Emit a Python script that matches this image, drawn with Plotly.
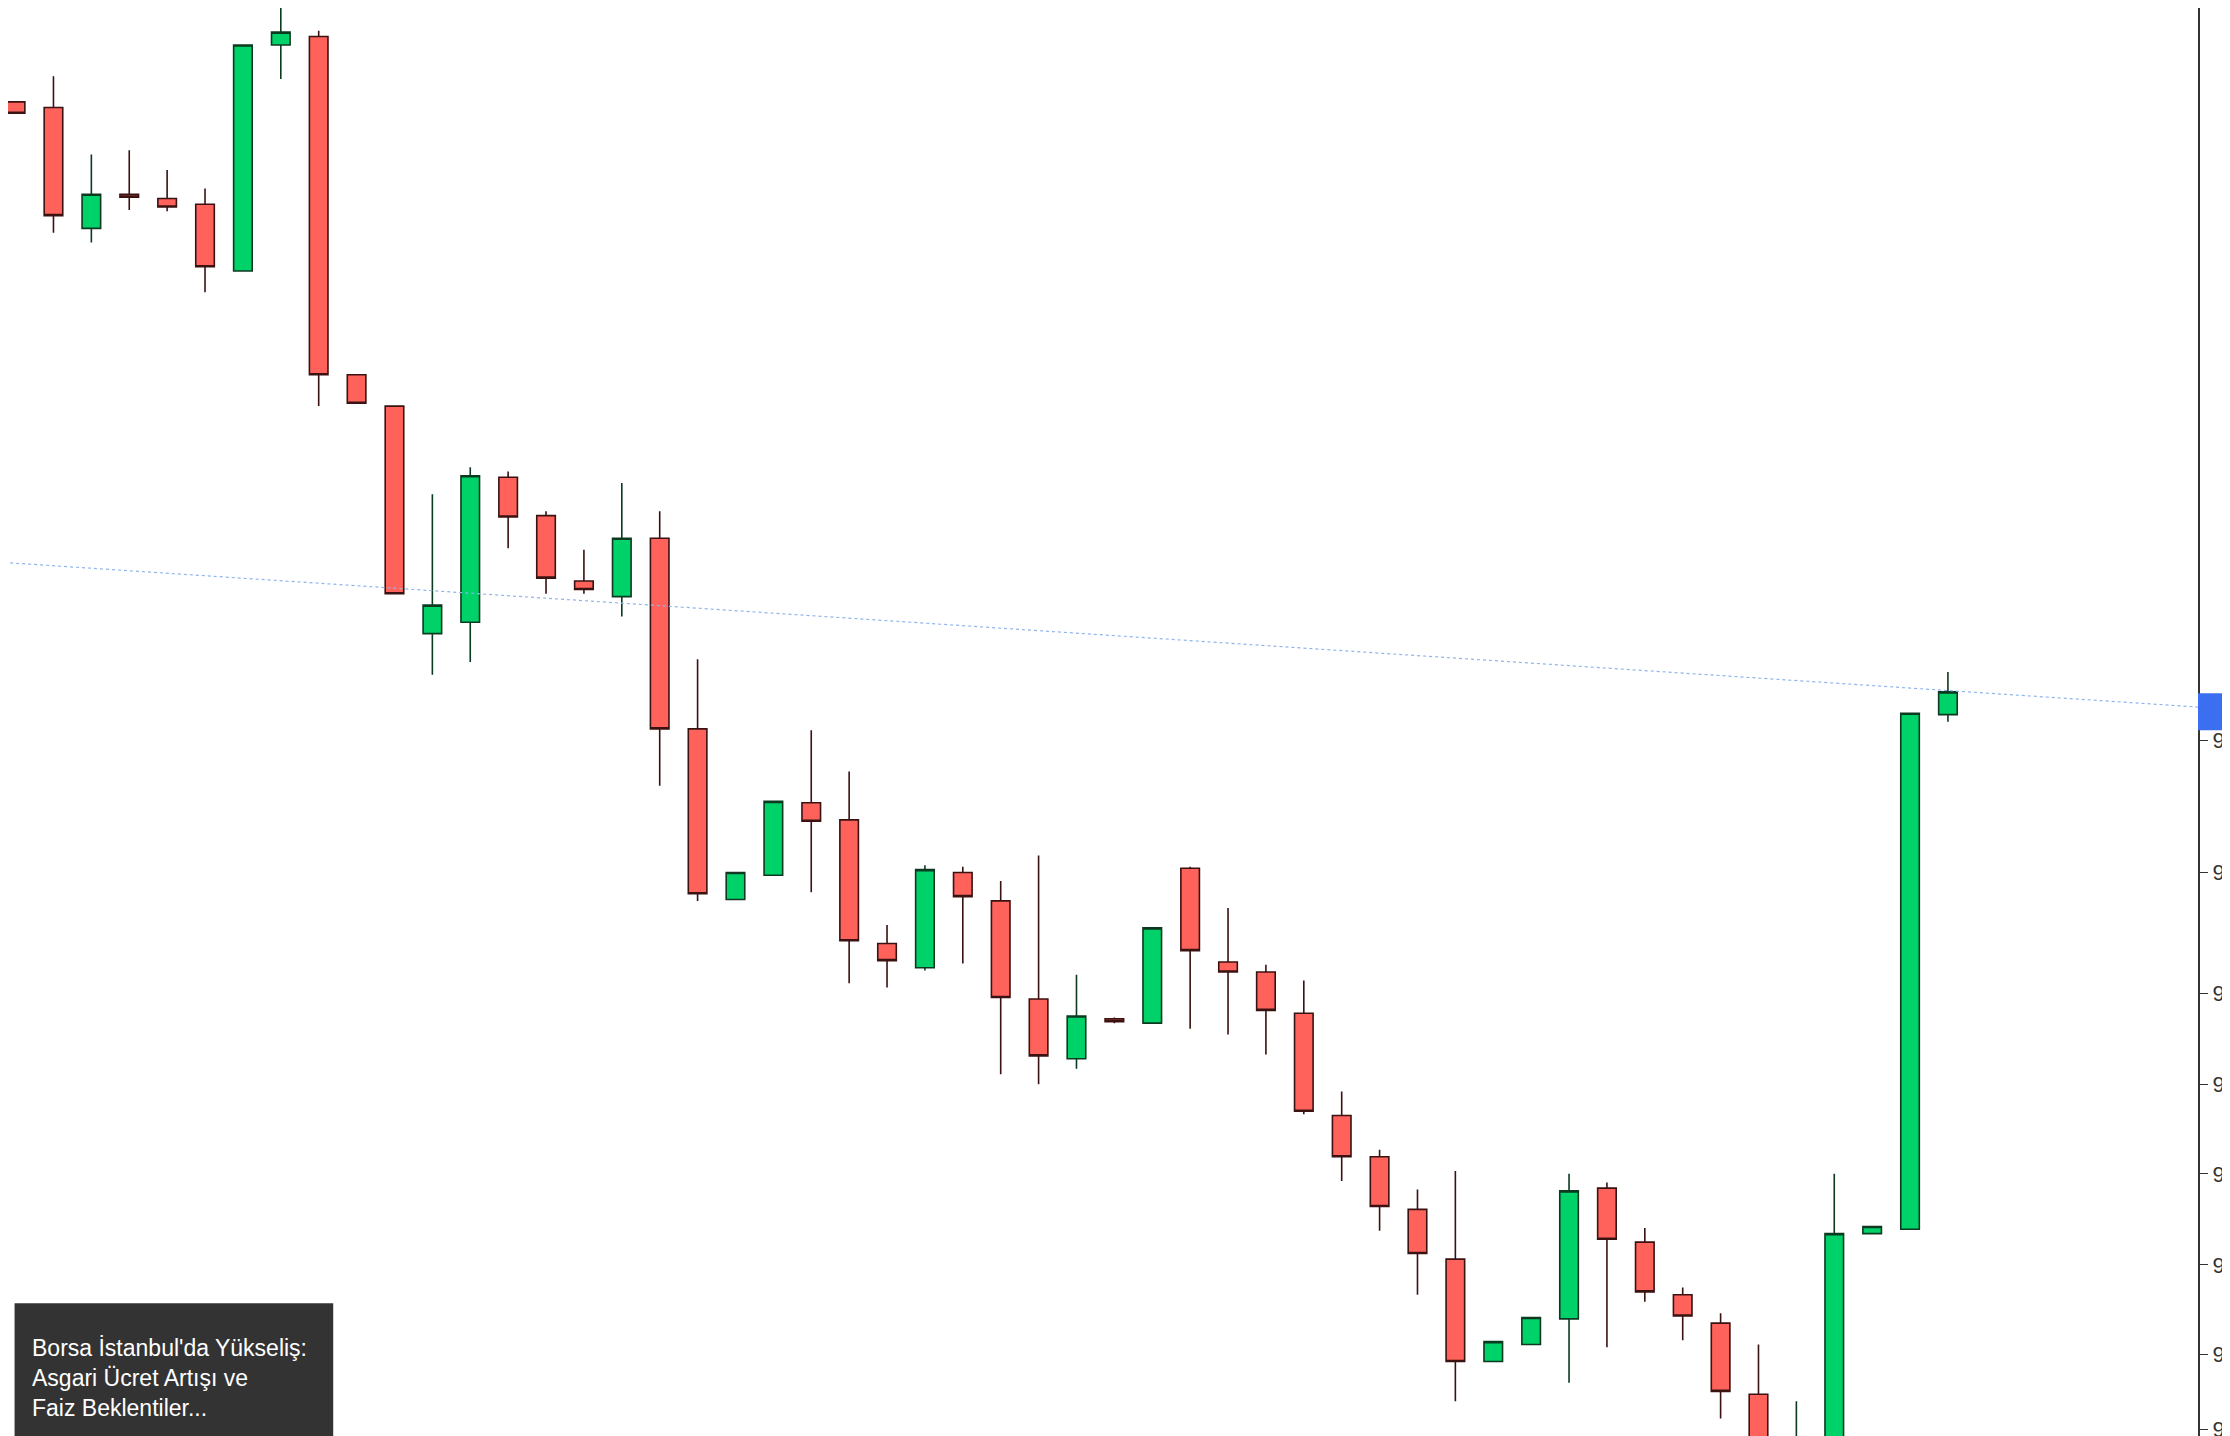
import plotly.graph_objects as go

idx = list(range(52))
open_ = [96.934,96.930,96.845,96.869,96.866,96.862,96.815,96.974,96.980,96.742,96.720,96.560,96.568,96.670,96.643,96.597,96.586,96.627,96.493,96.373,96.390,96.441,96.429,96.342,96.325,96.392,96.372,96.303,96.261,96.289,96.286,96.395,96.329,96.322,96.293,96.221,96.192,96.155,96.120,96.048,96.060,96.078,96.170,96.132,96.095,96.075,96.025,95.990,95.994,96.138,96.141,96.503]
close = [96.926,96.854,96.869,96.867,96.860,96.818,96.974,96.983,96.742,96.722,96.588,96.580,96.671,96.642,96.599,96.591,96.627,96.493,96.377,96.392,96.442,96.428,96.344,96.330,96.394,96.375,96.304,96.263,96.291,96.287,96.353,96.337,96.322,96.295,96.224,96.192,96.157,96.124,96.048,96.062,96.079,96.168,96.134,96.097,96.080,96.027,95.990,95.994,96.138,96.143,96.504,96.519]
high = [96.934,96.952,96.897,96.900,96.886,96.873,96.974,97.005,96.984,96.742,96.720,96.658,96.677,96.674,96.646,96.619,96.666,96.646,96.542,96.392,96.442,96.492,96.463,96.355,96.397,96.396,96.386,96.404,96.320,96.290,96.353,96.396,96.367,96.327,96.316,96.238,96.197,96.169,96.182,96.062,96.079,96.180,96.174,96.142,96.100,96.082,96.060,96.020,96.180,96.143,96.504,96.533]
low = [96.926,96.842,96.835,96.858,96.857,96.800,96.815,96.950,96.720,96.722,96.588,96.531,96.540,96.620,96.588,96.588,96.572,96.453,96.372,96.373,96.390,96.378,96.314,96.311,96.323,96.328,96.250,96.243,96.254,96.286,96.286,96.282,96.278,96.264,96.222,96.175,96.140,96.095,96.020,96.048,96.060,96.033,96.058,96.090,96.063,96.008,95.980,95.985,95.985,96.138,96.141,96.498]
ref_line_x = [-0.3, 59.5]
ref_line_y = [96.610, 96.505]
tick_vals = [96.000,96.053,96.116,96.180,96.243,96.307,96.392,96.485]
tick_text = ["96","96","96","9","9","9","9","9"]
title_lines = ["Borsa İstanbul'da Yükseliş:", "Asgari Ücret Artışı ve", "Faiz Beklentiler..."]

fig = go.Figure()
fig.add_trace(go.Scatter(x=ref_line_x, y=ref_line_y, mode="lines",
                         line=dict(color="#8fb4ee", width=1.2, dash="dot"), hoverinfo="skip", cliponaxis=False))
fig.add_trace(go.Candlestick(
    x=idx, open=open_, high=high, low=low, close=close,
    increasing=dict(line=dict(color="#0c3a20", width=1.6), fillcolor="#00d26a"),
    decreasing=dict(line=dict(color="#3b1212", width=1.6), fillcolor="#ff625a"),
    whiskerwidth=0))
fig.update_layout(
    width=2230, height=1436, showlegend=False,
    plot_bgcolor="white", paper_bgcolor="white",
    margin=dict(l=0, r=40, t=0, b=0),
    xaxis=dict(range=[-0.2, 57.6], visible=False, rangeslider=dict(visible=False)),
    yaxis=dict(range=[95.990, 97.0], side="right", showgrid=False, zeroline=False, automargin=False,
               showline=True, linecolor="#333", linewidth=2, ticks="outside",
               ticklen=8, tickcolor="#333", tickvals=tick_vals, ticktext=tick_text,
               tickfont=dict(family="Liberation Sans", size=22, color="#333")),
    shapes=[
        dict(type="rect", xref="paper", yref="paper", x0=0.003, x1=0.1485, y0=0, y1=0.098,
             fillcolor="#333333", line=dict(width=0)),
        dict(type="rect", xref="paper", yref="y", x0=1.0, x1=1.03, y0=96.492, y1=96.518,
             fillcolor="#3b6ff0", line=dict(width=0)),
    ],
    annotations=[dict(xref="paper", yref="paper", x=0.010, y=0.077, xanchor="left", yanchor="top",
                      align="left", showarrow=False, text="<br>".join(title_lines),
                      font=dict(family="Liberation Sans", size=23, color="white"))],
)
fig.write_html("out.html")
